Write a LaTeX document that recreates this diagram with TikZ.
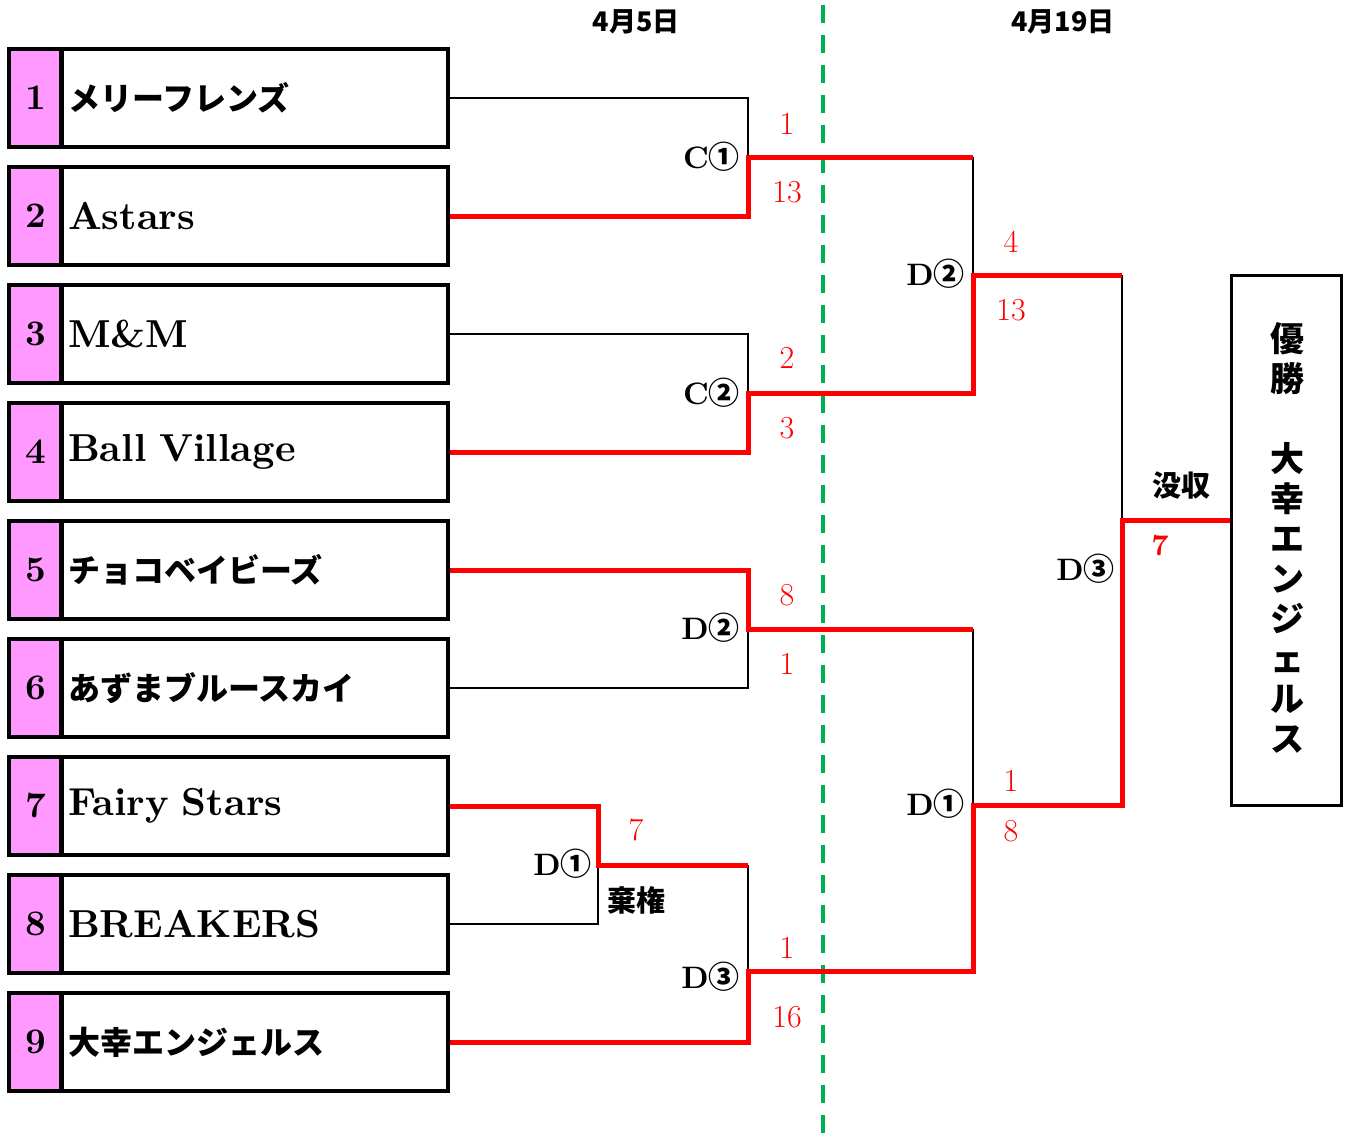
\documentclass[tikz,border=0pt]{standalone}
\usepackage{fontspec}
\newfontfamily\jp{Noto Sans CJK JP}
\newfontfamily\lmb{lmroman10-bold}[Extension=.otf]
\definecolor{pinkc}{HTML}{FF99FF}
\definecolor{greenc}{HTML}{00B050}
\newcommand\cnum[1]{{\jp\bfseries #1}}
\begin{document}
\begin{tikzpicture}[x=1pt,y=-1pt,
  numbox/.style={draw,line width=3.5pt,fill=pinkc,minimum width=53pt,minimum height=98pt,inner sep=0pt,font=\lmb\fontsize{36}{40}\selectfont},
  namebox/.style={draw,line width=3.5pt,minimum width=387pt,minimum height=98pt,text width=373pt,inner sep=7pt,align=left},
  latn/.style={font=\lmb\fontsize{39}{44}\selectfont},
  jpn/.style={font=\jp\bfseries\fontsize{32}{36}\selectfont},
  blk/.style={line width=2.5pt,black},
  wl/.style={line width=5pt,red},
  mlabel/.style={font=\lmb\fontsize{31}{34}\selectfont,anchor=east,inner sep=0pt},
  score/.style={font=\fontsize{32}{34}\selectfont,text=red,inner sep=0pt},
  jnote/.style={font=\jp\bfseries\fontsize{29}{32}\selectfont,inner sep=0pt},
  date/.style={font=\jp\bfseries\fontsize{27}{30}\selectfont,inner sep=0pt}]
\useasboundingbox (0,0) rectangle (1348,1135);

% green divider
\coordinate (gtop) at (823,5);
\coordinate (gbot) at (823,1135);
\draw[greenc,line width=4pt,dash pattern=on 18pt off 12pt] (gtop) -- (gbot);

% dates
\node[date] (date1) at (636,22) {4月5日};
\node[date] (date2) at (1063,22) {4月19日};

% team boxes
\foreach \i/\y in {1/98,2/216,3/334,4/452,5/570,6/688,7/806,8/924,9/1042}{
  \node[numbox] (n\i) at (35.5,\y) {\i};
}
\node[namebox,jpn]  (t1) at (254.5,98)   {メリーフレンズ};
\node[namebox,latn] (t2) at (254.5,216)  {Astars};
\node[namebox,latn] (t3) at (254.5,334)  {M\&M};
\node[namebox,latn] (t4) at (254.5,452)  {Ball Village};
\node[namebox,jpn]  (t5) at (254.5,570)  {チョコベイビーズ};
\node[namebox,jpn]  (t6) at (254.5,688)  {あずまブルースカイ};
\node[namebox,latn] (t7) at (254.5,806)  {Fairy Stars};
\node[namebox,latn] (t8) at (254.5,924)  {BREAKERS};
\node[namebox,jpn]  (t9) at (254.5,1042) {大幸エンジェルス};

% winner box
\node[draw,line width=3pt,minimum width=110pt,minimum height=530pt,inner sep=0pt] (win) at (1286,540) {};
\node[font=\jp\bfseries\fontsize{34}{40}\selectfont,align=center,inner sep=0pt] (wtxt) at (1287,538)
  {優\\勝\\[40pt]大\\幸\\エ\\ン\\ジ\\ェ\\ル\\ス};

% match points
\coordinate (c1) at (748,157);
\coordinate (c2) at (748,393);
\coordinate (d2) at (748,629);
\coordinate (d1) at (598,865);
\coordinate (d3) at (748,971);
\coordinate (e2) at (973,275);
\coordinate (e1) at (973,805);
\coordinate (f3) at (1122,520);

% losing (black) lines
\draw[blk] (t1.east) -| (c1);
\draw[blk] (t3.east) -| (c2);
\draw[blk] (t6.east) -| (d2);
\draw[blk] (t8.east) -| (d1);
\draw[blk] (d1 -| d3) -- (d3);
\draw[blk] (c1 -| e2) -- (e2);
\draw[blk] (d2 -| e1) -- (e1);
\draw[blk] (e2 -| f3) -- (f3);

% winning (red) lines
\draw[wl] (t2.east) -| (c1) -- (c1 -| e2);
\draw[wl] (t4.east) -| (c2) -- (c2 -| e2) -- (e2) -- (e2 -| f3);
\draw[wl] (t5.east) -| (d2) -- (d2 -| e1);
\draw[wl] (t7.east) -| (d1) -- (d1 -| d3);
\draw[wl] (t9.east) -| (d3) -- (d3 -| e1) -- (e1) -- (e1 -| f3) -- (f3) -- (f3 -| win.west);

% match labels
\node[mlabel] (lc1) at (740,157) {C\cnum{①}};
\node[mlabel] (lc2) at (740,393) {C\cnum{②}};
\node[mlabel] (ld2) at (740,628) {D\cnum{②}};
\node[mlabel] (ld1) at (592,864) {D\cnum{①}};
\node[mlabel] (ld3) at (740,977) {D\cnum{③}};
\node[mlabel] (le2) at (965,274) {D\cnum{②}};
\node[mlabel] (le1) at (965,804) {D\cnum{①}};
\node[mlabel] (lf3) at (1115,569) {D\cnum{③}};

% scores
\node[score] (s1) at (787,124) {1};
\node[score] (s2) at (787,192) {13};
\node[score] (s3) at (787,358) {2};
\node[score] (s4) at (787,428) {3};
\node[score] (s5) at (787,595) {8};
\node[score] (s6) at (787,664) {1};
\node[score] (s7) at (636,830) {7};
\node[jnote] (n7) at (636,900) {棄権};
\node[score] (s8) at (787,948) {1};
\node[score] (s9) at (787,1017) {16};
\node[score] (s10) at (1011,242) {4};
\node[score] (s11) at (1011,310) {13};
\node[score] (s12) at (1011,781) {1};
\node[score] (s13) at (1011,831) {8};
\node[jnote] (n8) at (1181,486) {没収};
\node[score,font=\lmb\fontsize{30}{32}\selectfont] (s14) at (1160,546) {7};
\end{tikzpicture}
\end{document}
